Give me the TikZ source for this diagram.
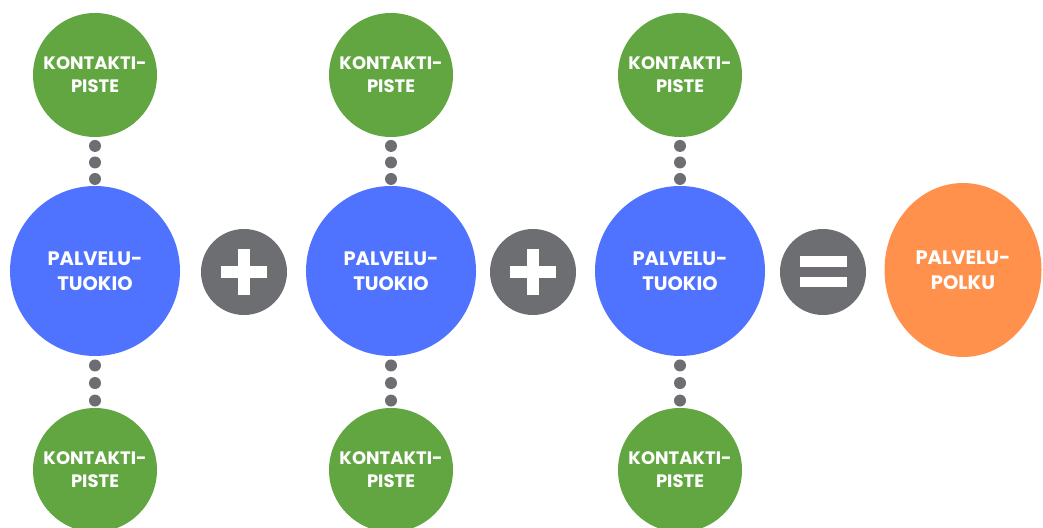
\documentclass[tikz,border=0pt]{standalone}
\usepackage{fontspec}
\setmainfont{Poppins}
\usetikzlibrary{calc,shapes.geometric}
\definecolor{cgreen}{HTML}{62A642}
\definecolor{cblue}{HTML}{4F73FF}
\definecolor{cgray}{HTML}{6D6E71}
\definecolor{corange}{HTML}{FF914D}
\tikzset{
  contact/.style={circle,fill=cgreen,minimum size=124pt,inner sep=0pt,text=white,
    font=\bfseries\fontsize{18}{23}\selectfont,align=center},
  touch/.style={circle,fill=cblue,minimum size=170pt,inner sep=0pt,text=white,
    font=\bfseries\fontsize{19.5}{25}\selectfont,align=center},
  path/.style={ellipse,fill=corange,minimum width=157pt,minimum height=174pt,inner sep=0pt,text=white,
    font=\bfseries\fontsize{19.5}{25}\selectfont,align=center},
  opcirc/.style={circle,fill=cgray,minimum size=86pt,inner sep=0pt},
  dotmark/.style={circle,fill=cgray,minimum size=12pt,inner sep=0pt},
  bar/.style={fill=white}
}
\begin{document}
\begin{tikzpicture}[x=1pt,y=1pt]
\useasboundingbox (0,0) rectangle (1043,527);
% columns
\foreach \i/\x in {1/95,2/391,3/680}{
  \node[contact] (gt\i) at (\x,452) {KONTAKTI-\\PISTE};
  \node[touch] (b\i) at (\x,256) {PALVELU-\\TUOKIO};
  \node[contact] (gb\i) at (\x,57) {KONTAKTI-\\PISTE};
  \foreach \t [count=\k] in {0.18,0.52,0.86}{
    \node[dotmark] (dt\i\k) at ($(gt\i.south)!\t!(b\i.north)$) {};
    \node[dotmark] (db\i\k) at ($(b\i.south)!\t!(gb\i.north)$) {};
  }
}
% operators
\node[opcirc] (p1) at (244,255) {};
\node[opcirc] (p2) at (533,255) {};
\node[opcirc] (eq) at (823,255) {};
\foreach \n in {p1,p2}{
  \fill[bar] ($(\n.center)+(-23,-6)$) rectangle ($(\n.center)+(23,6)$);
  \fill[bar] ($(\n.center)+(-6,-23)$) rectangle ($(\n.center)+(6,23)$);
}
\fill[bar] ($(eq.center)+(-23.5,5)$) rectangle ($(eq.center)+(23.5,15.5)$);
\fill[bar] ($(eq.center)+(-23.5,-15.5)$) rectangle ($(eq.center)+(23.5,-5)$);
% result
\node[path] (res) at (963,257) {PALVELU-\\POLKU};
\end{tikzpicture}
\end{document}
